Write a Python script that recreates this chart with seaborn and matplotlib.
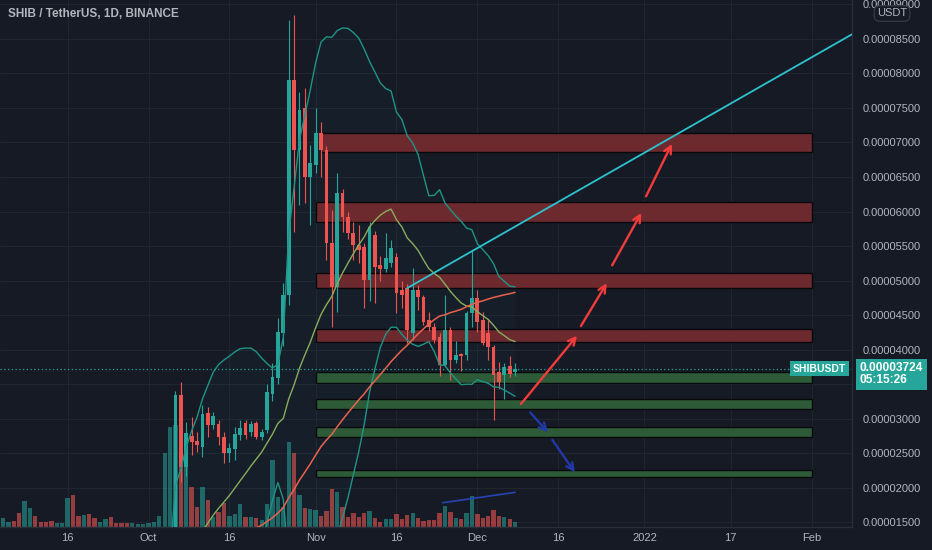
import numpy as np
import pandas as pd
import matplotlib
matplotlib.use("Agg")
import matplotlib.pyplot as plt
import matplotlib.dates as mdates
from matplotlib.colors import to_rgba
from matplotlib.patches import Rectangle
import seaborn as sns

# daily candles SHIBUSDT (Binance), prices in millionths of a USDT
dates = pd.date_range("2021-08-28", "2021-12-08", freq="D")

open_ = [7.8, 7.9, 7.7, 7.6,
         7.9, 8.1, 8.0, 8.2, 8.5, 8.8, 8.6, 7.4, 7.8, 8.0, 7.6, 7.5, 7.4, 7.2, 7.4,
         7.6, 8.3, 7.8, 7.7, 7.8, 7.1, 6.8, 7.2, 7.3, 7.0, 6.9, 6.8, 6.7, 6.8, 6.9,
         7.1, 7.4, 7.5, 7.7, 10.3, 11.5, 33.4, 23.0, 27.5, 26.8, 25.9, 30.8, 29.1, 29.2, 27.3,
         25.0, 25.6, 27.6, 29.3, 28.0, 29.3, 27.3, 28.3, 33.6, 35.9, 42.4, 47.9, 79.0, 68.9, 75.0, 65.0,
         66.7, 71.4, 68.9, 55.4, 49.0, 62.7, 59.2, 56.9, 55.1, 54.9, 50.1, 56.6, 52.3, 51.6, 52.6,
         53.4, 48.6, 48.9, 42.4, 48.6, 47.6, 44.3, 43.3, 41.8, 37.8, 42.8, 38.5, 39.3, 39.2, 45.3,
         47.5, 44.3, 42.4, 40.4, 36.8, 36.3, 37.6, 36.8]
high = [8.0, 8.1, 7.9, 8.0,
        8.3, 8.3, 8.4, 8.7, 9.0, 9.1, 8.8, 8.0, 8.3, 8.2, 7.8, 7.7, 7.6, 7.6, 7.8,
        8.6, 8.5, 8.0, 8.0, 8.0, 7.3, 7.4, 7.5, 7.5, 7.2, 7.1, 7.0, 7.0, 7.1, 7.3,
        7.6, 7.7, 8.0, 11.0, 12.6, 34.0, 35.3, 29.5, 30.2, 28.0, 32.0, 31.7, 31.0, 29.8, 28.0,
        26.4, 28.8, 29.8, 29.8, 29.6, 29.6, 28.5, 35.0, 38.0, 44.6, 49.6, 87.8, 88.5, 77.3, 77.9, 69.6,
        75.0, 72.9, 69.5, 60.2, 65.6, 63.2, 60.0, 58.5, 58.0, 55.5, 58.5, 57.2, 53.6, 56.9, 55.8,
        54.0, 50.0, 49.5, 51.8, 49.3, 47.9, 45.4, 43.9, 42.4, 47.9, 43.2, 41.2, 39.5, 45.6, 54.4,
        48.6, 45.4, 44.3, 40.6, 38.2, 38.0, 39.0, 38.0]
low = [7.6, 7.6, 7.5, 7.5,
       7.7, 7.8, 7.8, 8.0, 8.3, 8.4, 7.0, 7.2, 7.6, 7.4, 7.3, 7.2, 7.0, 7.0, 7.2,
       7.4, 7.6, 7.5, 7.5, 6.9, 6.6, 6.6, 7.0, 6.8, 6.7, 6.6, 6.5, 6.5, 6.6, 6.7,
       7.0, 7.2, 7.3, 7.5, 9.9, 11.2, 20.8, 21.6, 24.7, 25.1, 24.4, 27.3, 28.5, 26.2, 23.6,
       23.7, 24.0, 26.9, 27.0, 27.4, 27.0, 26.9, 27.9, 32.5, 35.0, 40.5, 46.4, 57.0, 61.0, 61.3, 58.0,
       65.6, 65.0, 53.0, 43.3, 45.4, 57.0, 56.0, 53.0, 52.5, 46.0, 47.0, 46.8, 50.0, 51.2, 52.0,
       45.3, 46.0, 41.0, 41.4, 45.7, 43.6, 42.7, 40.9, 36.2, 37.5, 35.6, 38.1, 36.9, 38.5, 43.3,
       42.6, 40.6, 38.5, 29.8, 34.3, 32.8, 36.0, 36.2]
close = [7.9, 7.7, 7.6, 7.9,
         8.1, 8.0, 8.2, 8.5, 8.8, 8.6, 7.4, 7.8, 8.0, 7.6, 7.5, 7.4, 7.2, 7.4, 7.6,
         8.3, 7.8, 7.7, 7.8, 7.1, 6.8, 7.2, 7.3, 7.0, 6.9, 6.8, 6.7, 6.8, 6.9, 7.1,
         7.4, 7.5, 7.7, 10.3, 11.5, 33.4, 23.0, 27.9, 26.6, 26.1, 30.6, 29.1, 30.3, 27.3, 25.0,
         25.7, 27.8, 28.6, 27.6, 29.2, 27.3, 28.0, 33.8, 36.0, 42.6, 47.9, 79.0, 68.9, 74.7, 65.0, 67.0,
         71.4, 68.9, 55.4, 49.0, 62.7, 59.2, 56.9, 55.1, 54.4, 50.1, 57.8, 51.9, 51.6, 53.3, 54.7,
         48.2, 47.9, 42.8, 48.6, 47.6, 44.0, 43.3, 41.4, 37.8, 42.8, 38.5, 39.2, 39.0, 45.3, 47.5,
         44.0, 41.0, 40.4, 36.3, 35.3, 37.5, 36.4, 37.24]
volume = [6, 5, 7, 6,
          8, 7, 6, 9, 5, 6, 14, 26, 19, 11, 5, 5, 6, 4, 4,
          29, 32, 11, 12, 13, 9, 5, 8, 10, 4, 4, 4, 4, 3, 3,
          4, 5, 11, 74, 100, 102, 95, 60, 40, 20, 40, 27, 10, 15, 24,
          11, 13, 23, 10, 10, 9, 7, 23, 67, 30, 20, 85, 74, 32, 19, 18,
          17, 11, 16, 38, 35, 20, 10, 14, 10, 14, 16, 9, 5, 8, 8,
          13, 8, 12, 14, 9, 6, 7, 7, 14, 21, 15, 9, 8, 14, 31,
          13, 9, 11, 17, 11, 10, 8, 5]

# drawn zones
resist_start = ["2021-11-02", "2021-11-01", "2021-11-01", "2021-11-01"]
resist_lo = [68.6, 58.5, 48.9, 41.1]
resist_hi = [71.4, 61.4, 51.1, 43.0]
support_lo = [35.1, 31.4, 27.3, 21.5]
support_hi = [36.7, 32.8, 28.8, 22.5]
zone_end = "2022-02-01"

# drawn trend line and arrows
trend_dates = ["2021-11-18", "2022-01-05"]
trend_prices = [48.9, 70.3]
up_tail_dates = ["2021-12-09 02:00", "2021-12-20 05:00", "2021-12-26 00:00", "2022-01-01 07:00"]
up_tail_prices = [32.1, 43.4, 52.2, 62.2]
up_tip_dates = ["2021-12-19 12:00", "2021-12-25 00:00", "2021-12-31 10:00", "2022-01-06 02:00"]
up_tip_prices = [42.0, 49.6, 59.8, 69.8]
down_tail_dates = ["2021-12-10 19:00", "2021-12-14 22:00"]
down_tail_prices = [30.9, 26.9]
down_tip_dates = ["2021-12-14 02:00", "2021-12-19 02:00"]
down_tip_prices = [28.0, 22.2]
blue_dates = ["2021-11-24 14:00", "2021-12-08"]
blue_prices = [17.8, 19.3]

tick_dates = ["2021-09-16", "2021-10-01", "2021-10-16", "2021-11-01", "2021-11-16",
              "2021-12-01", "2021-12-16", "2022-01-01", "2022-01-17", "2022-02-01"]
tick_labels = ["16", "Oct", "16", "Nov", "16", "Dec", "16", "2022", "17", "Feb"]
price_ticks = list(range(15, 91, 5))

BG = "#161a25"
GRID = "#21252f"
TXT = "#b2b5be"
UP = "#26a69a"
DN = "#ef5350"

sns.set_theme(style="dark", rc={"axes.facecolor": BG, "figure.facecolor": BG})
plt.rcParams["font.family"] = ["Liberation Sans", "DejaVu Sans"]


def dnum(s):
    return mdates.date2num(pd.to_datetime(s))


df = pd.DataFrame({"open": open_, "high": high, "low": low, "close": close,
                   "volume": volume}, index=dates)
df["x"] = mdates.date2num(df.index)
df["basis"] = df["close"].rolling(20).mean()
sd = df["close"].rolling(20).std(ddof=0)
df["upper"] = df["basis"] + 2 * sd
df["lower"] = df["basis"] - 2 * sd
df["sma50"] = df["close"].rolling(50).mean()

fig = plt.figure(figsize=(9.32, 5.5), dpi=100)
ax = fig.add_axes([0, 23 / 550, 852 / 932, 527 / 550])
ax.set_facecolor(BG)

nov1 = dnum("2021-11-01")
ax.set_xlim(nov1 - 58.55, nov1 + 99.5)
ax.set_ylim(14.28, 90.65)

# volume pane at the bottom (volume scale spans the whole pane height)
VOL_SPAN = 527.0
up = (df["close"] >= df["open"]).values
vcols = [to_rgba(UP, 0.55) if u else to_rgba(DN, 0.6) for u in up]
ax.bar(df["x"], df["volume"] / VOL_SPAN, width=0.8, bottom=0, color=vcols,
       linewidth=0, transform=ax.get_xaxis_transform(), zorder=1)

# zones
for s, lo, hi in zip(resist_start, resist_lo, resist_hi):
    ax.add_patch(Rectangle((dnum(s), lo), dnum(zone_end) - dnum(s), hi - lo,
                           fc="#6c2a2f", ec="#08090c", lw=1, zorder=2))
for lo, hi in zip(support_lo, support_hi):
    ax.add_patch(Rectangle((nov1, lo), dnum(zone_end) - nov1, hi - lo,
                           fc="#2e5b37", ec="#08090c", lw=1, zorder=2))

# candles
cols = np.where(up, UP, DN)
ax.vlines(df["x"], df["low"], df["high"], colors=cols, lw=0.8, zorder=3)
body_lo = np.minimum(df["open"], df["close"])
body_h = np.maximum((df["close"] - df["open"]).abs(), 0.15)
ax.bar(df["x"], body_h, bottom=body_lo, width=0.7, color=cols, linewidth=0, zorder=3.1)

# bollinger bands and sma
ax.fill_between(df["x"], df["lower"], df["upper"], color=UP, alpha=0.04, lw=0, zorder=1.5)
sns.lineplot(x=df["x"], y=df["upper"], ax=ax, color="#1f9486", lw=1, estimator=None, zorder=4)
sns.lineplot(x=df["x"], y=df["lower"], ax=ax, color="#1f9486", lw=1, estimator=None, zorder=4)
sns.lineplot(x=df["x"], y=df["basis"], ax=ax, color="#8aac5c", lw=1, estimator=None, zorder=4)
sns.lineplot(x=df["x"], y=df["sma50"], ax=ax, color="#e8624c", lw=1.1, estimator=None, zorder=4)

# trend line extended to the right edge
tx = [dnum(d) for d in trend_dates]
slope = (trend_prices[1] - trend_prices[0]) / (tx[1] - tx[0])
x_end = ax.get_xlim()[1]
ax.plot([tx[0], x_end], [trend_prices[0], trend_prices[0] + slope * (x_end - tx[0])],
        color="#2cc3cf", lw=1.3, zorder=5)

for td, tp, hd, hp in zip(up_tail_dates, up_tail_prices, up_tip_dates, up_tip_prices):
    ax.annotate("", xy=(dnum(hd), hp), xytext=(dnum(td), tp), zorder=6,
                arrowprops=dict(arrowstyle="->", color="#f23c3c", lw=1.7,
                                shrinkA=0, shrinkB=0, mutation_scale=13))
for td, tp, hd, hp in zip(down_tail_dates, down_tail_prices, down_tip_dates, down_tip_prices):
    ax.annotate("", xy=(dnum(hd), hp), xytext=(dnum(td), tp), zorder=6,
                arrowprops=dict(arrowstyle="->", color="#2338a8", lw=1.7,
                                shrinkA=0, shrinkB=0, mutation_scale=13))
ax.plot([dnum(d) for d in blue_dates], blue_prices, color="#2744b5", lw=1.2, zorder=5)

# last price line and labels
last = df["close"].iloc[-1]
ax.axhline(last, color=UP, lw=0.9, ls=(0, (1, 2)), zorder=4.5)
ax.annotate(f"{last * 1e-6:.8f}\n05:15:26", xy=(1, last), xycoords=ax.get_yaxis_transform(),
            xytext=(5.6, 4.6), textcoords="offset points", ha="left", va="top",
            fontsize=8.6, fontweight="bold", color="white", linespacing=1.0,
            bbox=dict(boxstyle="square,pad=0.3", fc=UP, ec="none"),
            annotation_clip=False, zorder=10)
ax.annotate("SHIBUSDT", xy=(1, last), xycoords=ax.get_yaxis_transform(),
            xytext=(-4.5, 0), textcoords="offset points", ha="right", va="center",
            fontsize=7.5, fontweight="bold", color="white",
            bbox=dict(boxstyle="square,pad=0.28", fc=UP, ec="none"), zorder=10)

# axes styling; the 0.00003500 label sits under the price label box
ax.yaxis.tick_right()
ax.set_yticks(price_ticks)
ax.set_yticklabels(["" if p == 35 else f"{p * 1e-6:.8f}" for p in price_ticks])
ax.set_xticks([dnum(d) for d in tick_dates])
ax.set_xticklabels(tick_labels)
ax.tick_params(axis="y", length=0, pad=7.5, labelsize=8, labelcolor=TXT)
ax.tick_params(axis="x", length=0, pad=4, labelsize=8, labelcolor=TXT)
ax.set_xlabel("")
ax.set_ylabel("")
ax.grid(True, color=GRID, lw=0.8)
ax.set_axisbelow(True)
for side in ["top", "left"]:
    ax.spines[side].set_visible(False)
for side in ["right", "bottom"]:
    ax.spines[side].set_color("#2a2e39")
    ax.spines[side].set_linewidth(1)

ax.text(8 / 852, 1 - 14 / 527, "SHIB / TetherUS, 1D, BINANCE", transform=ax.transAxes,
        ha="left", va="center", fontsize=8.5, fontweight="bold", color=TXT, zorder=10)
fig.text(892 / 932, 1 - 13.5 / 550, "USDT", ha="center", va="center", fontsize=8, color=TXT,
         bbox=dict(boxstyle="round,pad=0.25,rounding_size=0.5", fc=BG, ec="#3a3e4a", lw=0.8))

fig.savefig("out.png", dpi=100, facecolor=BG)
